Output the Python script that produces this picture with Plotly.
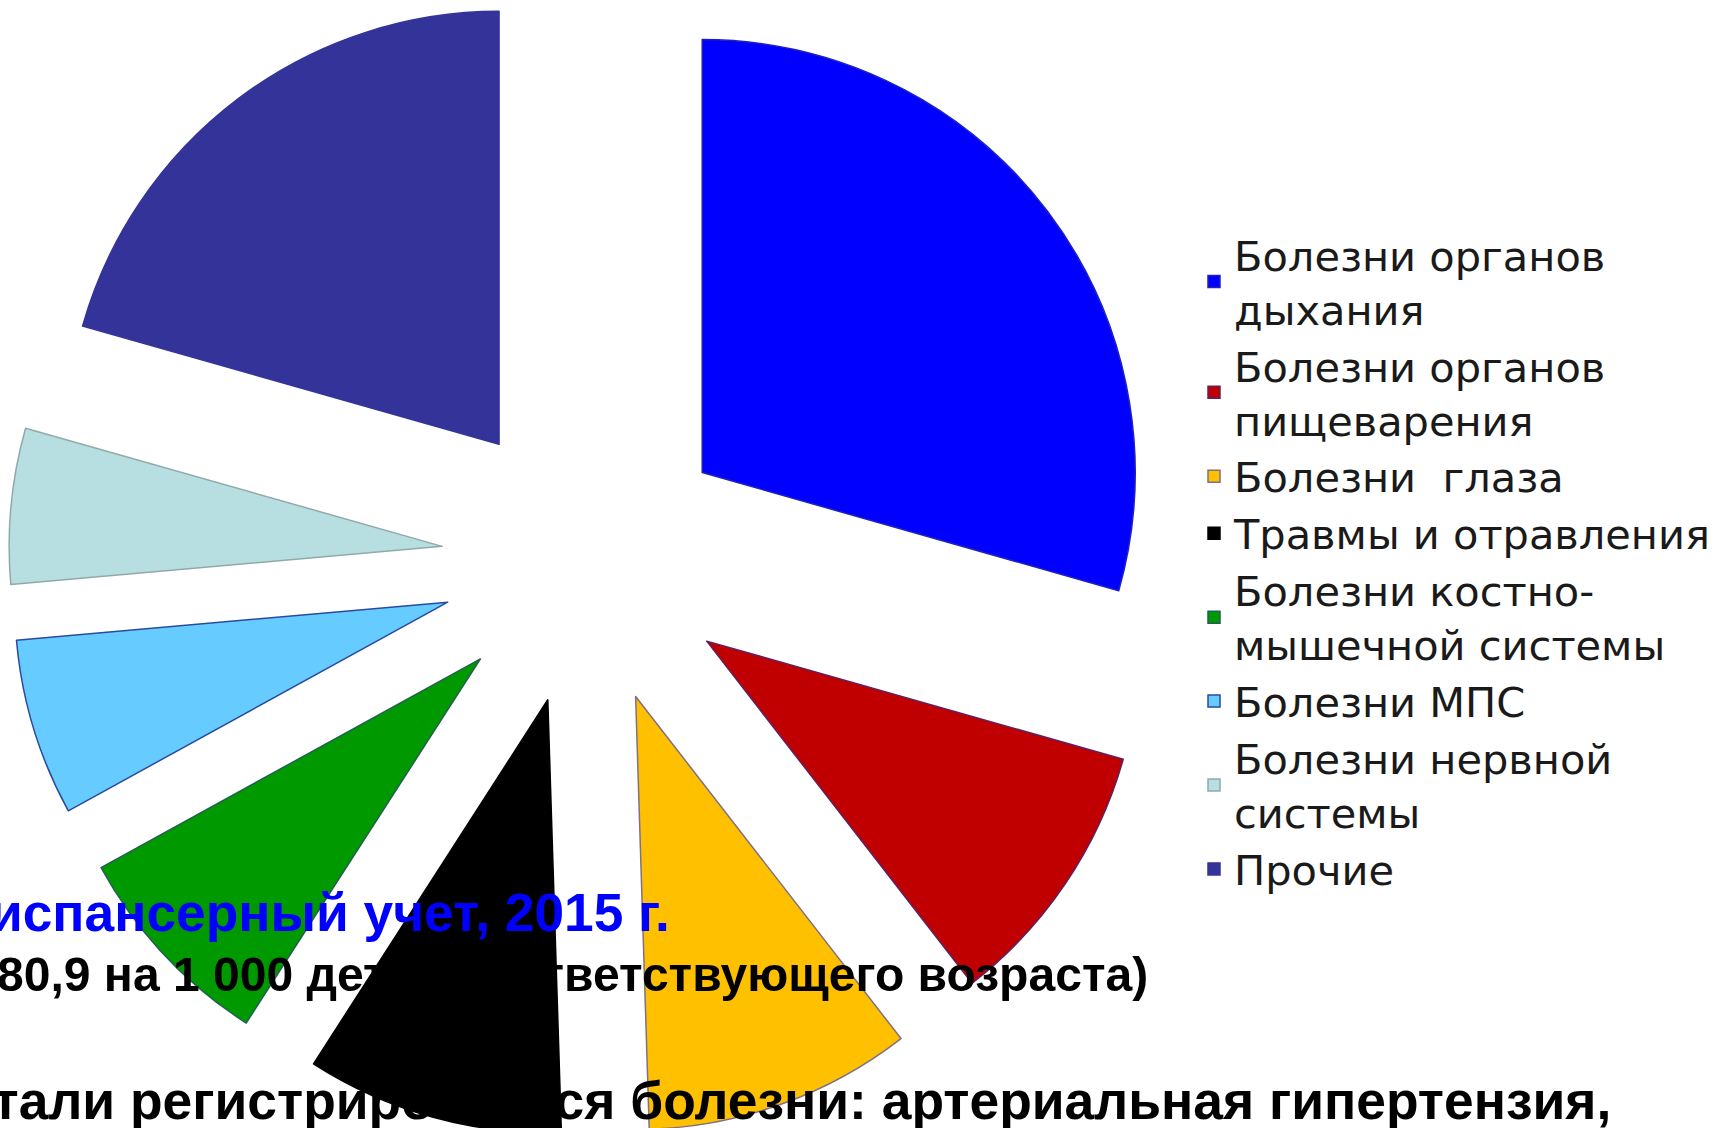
import plotly.graph_objects as go

# ---- data ----
labels = [
    "Болезни органов<br>дыхания",
    "Болезни органов<br>пищеварения",
    "Болезни\u00a0 глаза",
    "Травмы и отравления",
    "Болезни костно-<br>мышечной системы",
    "Болезни МПС",
    "Болезни нервной<br>системы",
    "Прочие",
]
values = [29.4, 10.1, 10.0, 9.6, 7.9, 6.6, 5.8, 20.6]
slice_colors = ["#0000FF", "#C00000", "#FFC000", "#000000",
                "#009900", "#66CCFF", "#B7DEE0", "#333399"]
edge_colors = ["#2020C0", "#602060", "#807080", "#000000",
               "#206050", "#2A4AA0", "#90AAAA", "#333399"]

note_lines = [
    "Диспансерный учет, 2015 г.",
    "80,9 на 1 000 детей соответствующего возраста)",
    "Стали регистрироваться болезни: артериальная гипертензия,",
]
note_colors = ["#0000FF", "#000000", "#000000"]

# ---- geometry of the page ----
W = 1727          # window width
WIN_H = 1128      # window height
TOP = 20          # figure is shifted up by this many px inside the page
HF = 1160         # figure height


def py(y_window):
    """window y (px from top) -> paper fraction of the taller figure"""
    return 1 - (y_window + TOP) / HF


fig = go.Figure()

fig.add_trace(go.Pie(
    labels=labels,
    values=values,
    sort=False,
    direction="clockwise",
    rotation=0,
    pull=[0.335] * len(values),
    textinfo="none",
    hoverinfo="label+percent",
    marker=dict(colors=slice_colors, line=dict(color=edge_colors, width=1.5)),
    domain=dict(x=[0, 2 * 586.5 / W], y=[1 - 1158 / HF, 1 - 2 / HF]),
    showlegend=True,
))

# note text lying over the chart (cut by the left edge of the page)
note_x = [672, 1150, 1613]
note_y = [912, 974, 1100]
note_size = [53.3, 48.05, 53.4]
for txt, col, x, y, s in zip(note_lines, note_colors, note_x, note_y, note_size):
    fig.add_annotation(
        text=txt, x=x / W, y=py(y), xref="paper", yref="paper",
        xanchor="right", yanchor="middle", showarrow=False,
        font=dict(family="Liberation Sans, Arial, sans-serif", size=s,
                  color=col, weight="bold"),
    )

fig.update_layout(
    width=W, height=HF,
    margin=dict(l=0, r=0, t=0, b=0, pad=0),
    paper_bgcolor="white",
    plot_bgcolor="white",
    legend=dict(
        x=1194 / W, y=py(221), xanchor="left", yanchor="top",
        font=dict(family="DejaVu Sans, Verdana, sans-serif", size=41.5, color="#1a1a1a"),
        bgcolor="rgba(0,0,0,0)",
        traceorder="normal",
    ),
    showlegend=True,
)

fig.write_html(
    "out.html",
    config={"displayModeBar": False},
    post_script=(
        "document.body.style.margin='0';"
        "document.body.style.overflow='hidden';"
        "document.getElementById('{plot_id}').style.marginTop='-%dpx';" % TOP
    ),
)
